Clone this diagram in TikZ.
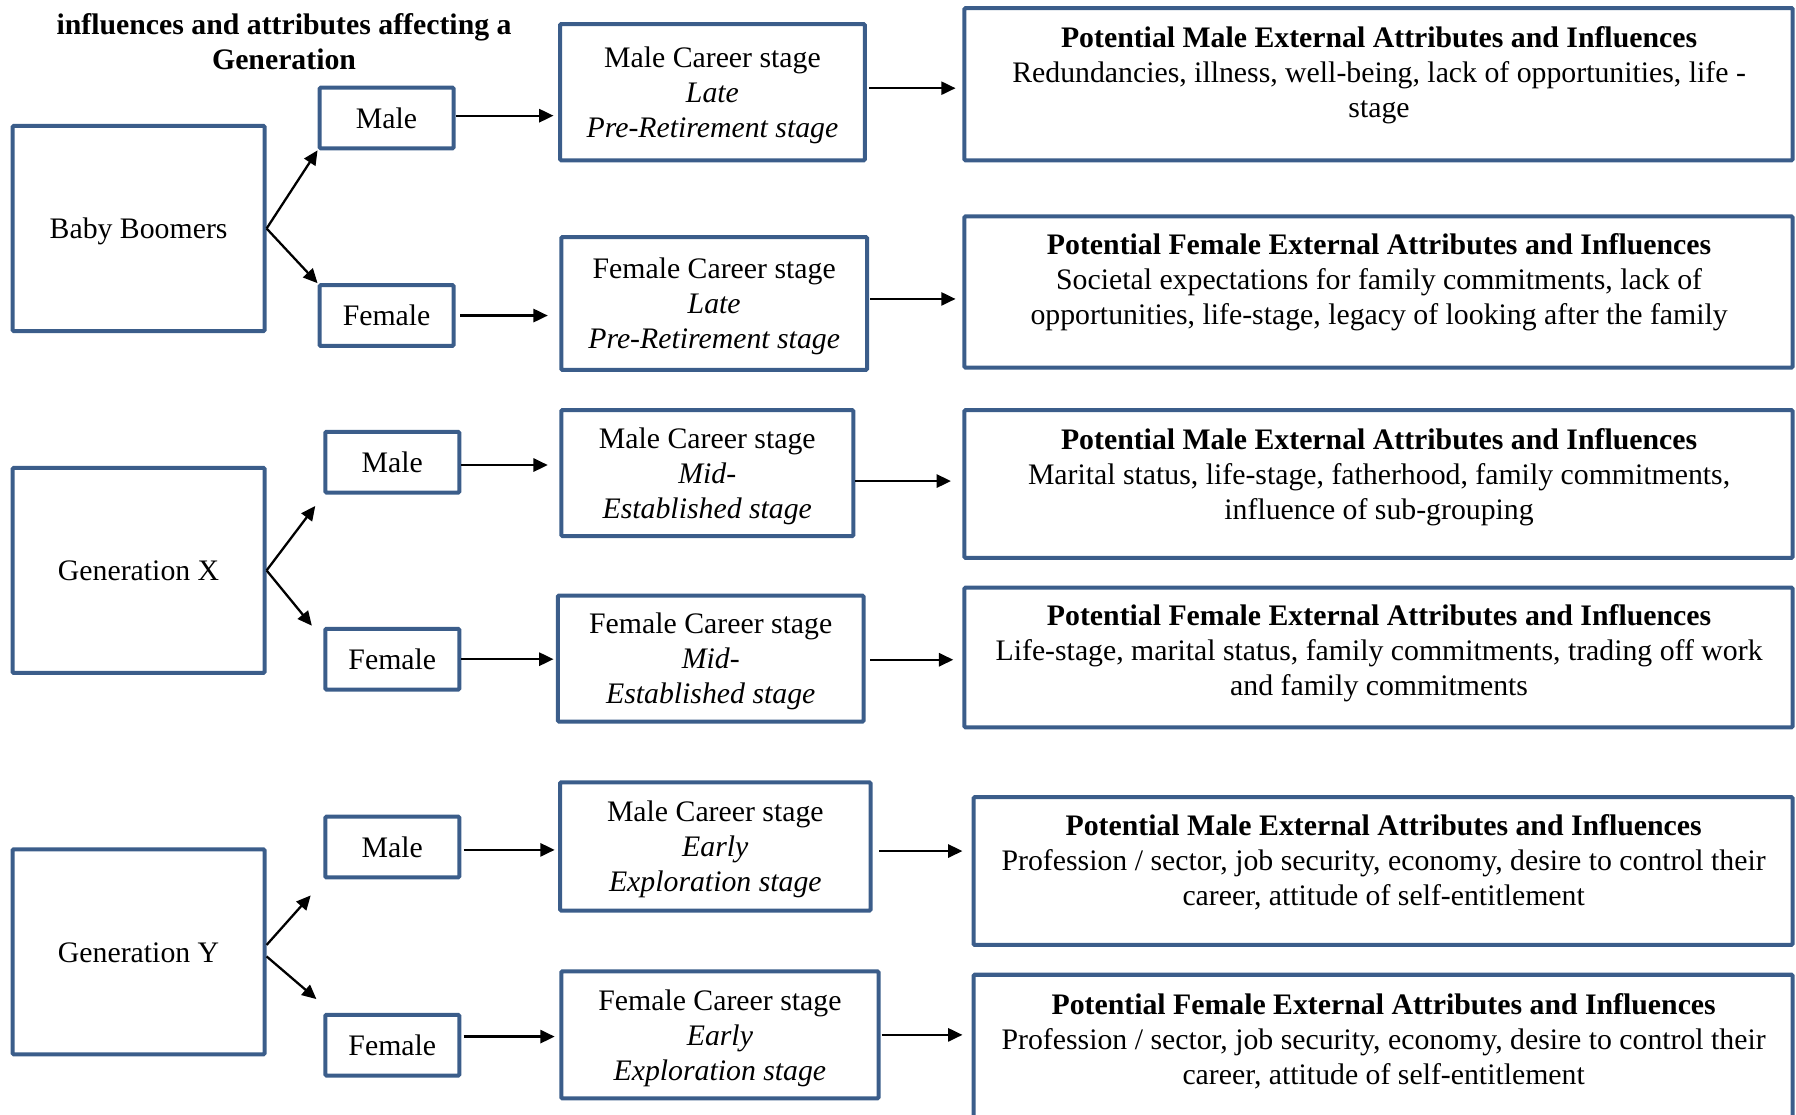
\documentclass[tikz,border=0pt]{standalone}
\usepackage{fontspec}
\setmainfont{Liberation Serif}
\usetikzlibrary{arrows.meta,calc}
\definecolor{boxblue}{RGB}{59,93,138}
% invisible strut giving first/last text lines a fixed height and depth
\newcommand\ls{\rule[-6pt]{0pt}{30pt}}
\begin{document}
\begin{tikzpicture}[x=1pt,y=-1pt,
  every node/.style={font=\fontsize{26}{30.5}\selectfont, align=center, inner sep=0pt},
  box/.style={draw=boxblue, line width=3.5pt, rectangle, rounded corners=1pt},
  gen/.style={box, minimum width=220pt, minimum height=179pt},
  sexbox/.style={box, minimum width=117pt, minimum height=53pt},
  arr/.style={line width=2pt, -{Triangle[length=12.5pt,width=11.5pt]}},
  head/.style={font=\fontsize{26}{30.5}\selectfont\bfseries}
]
\useasboundingbox (0,0) rectangle (1568,973);
\clip (0,0) rectangle (1568,973);

% heading
\node[head] (title) at (248,36) {influences and attributes affecting a\\Generation};

% generations
\node[gen] (bb) at (121,199.5) {\ls Baby Boomers};
\node[gen] (gx) at (121,498) {\ls Generation X};
\node[gen] (gy) at (121,831) {\ls Generation Y};

% male / female
\node[sexbox] (bbm) at (337.5,103) {\ls Male};
\node[sexbox] (bbf) at (337.5,275.5) {\ls Female};
\node[sexbox] (gxm) at (342.5,403.5) {\ls Male};
\node[sexbox] (gxf) at (342.5,575.5) {\ls Female};
\node[sexbox] (gym) at (342.5,739.5) {\ls Male};
\node[sexbox] (gyf) at (342.5,912.5) {\ls Female};

% career stages
\node[box, minimum width=266pt, minimum height=119pt] (bbmc) at (622,80.5)
  {\ls Male Career stage\\\textit{Late}\\\textit{Pre-Retirement stage}\ls};
\node[box, minimum width=267pt, minimum height=116pt] (bbfc) at (623.5,265)
  {\ls Female Career stage\\\textit{Late}\\\textit{Pre-Retirement stage}\ls};
\node[box, minimum width=255pt, minimum height=110pt] (gxmc) at (617.5,413)
  {\ls Male Career stage\\\textit{Mid-}\\\textit{Established stage}\ls};
\node[box, minimum width=267pt, minimum height=110pt] (gxfc) at (620.5,575)
  {\ls Female Career stage\\\textit{Mid-}\\\textit{Established stage}\ls};
\node[box, minimum width=271pt, minimum height=112pt] (gymc) at (624.5,739)
  {\ls Male Career stage\\\textit{Early}\\\textit{Exploration stage}\ls};
\node[box, minimum width=277pt, minimum height=111pt] (gyfc) at (628.5,903.5)
  {\ls Female Career stage\\\textit{Early}\\\textit{Exploration stage}\ls};

% external attributes and influences
\node[box, minimum width=723pt, minimum height=133pt] (r1) at (1203.5,73.5) {};
\node[box, minimum width=723pt, minimum height=132pt] (r2) at (1203.5,255) {};
\node[box, minimum width=723pt, minimum height=129pt] (r3) at (1203.5,422.5) {};
\node[box, minimum width=723pt, minimum height=122pt] (r4) at (1203.5,574) {};
\node[box, minimum width=715pt, minimum height=129pt] (r5) at (1207.5,760.5) {};
\node[box, minimum width=715pt, minimum height=140pt] (r6) at (1207.5,921) {};

\node (r1t) at (1204,63) {\ls\textbf{Potential Male External Attributes and Influences}\\
  Redundancies, illness, well-being, lack of opportunities, life -\\stage\ls};
\node (r2t) at (1204,244) {\ls\textbf{Potential Female External Attributes and Influences}\\
  Societal expectations for family commitments, lack of\\
  opportunities, life-stage, legacy of looking after the family\ls};
\node (r3t) at (1204,414) {\ls\textbf{Potential Male External Attributes and Influences}\\
  Marital status, life-stage, fatherhood, family commitments,\\
  influence of sub-grouping\ls};
\node (r4t) at (1204,568) {\ls\textbf{Potential Female External Attributes and Influences}\\
  Life-stage, marital status, family commitments, trading off work\\
  and family commitments\ls};
\node (r5t) at (1208,751) {\ls\textbf{Potential Male External Attributes and Influences}\\
  Profession / sector, job security, economy, desire to control their\\
  career, attitude of self-entitlement\ls};
\node (r6t) at (1208,907) {\ls\textbf{Potential Female External Attributes and Influences}\\
  Profession / sector, job security, economy, desire to control their\\
  career, attitude of self-entitlement\ls};

% branching arrows
\draw[arr] (bb.east) -- (bbm.south west);
\draw[arr] (bb.east) -- (bbf.north west);
\draw[arr] (gx.east) -- ($(gxm.south west)+(-7,10)$);
\draw[arr] (gx.east) -- ($(gxf.north west)+(-10,-1)$);
\draw[arr] ($(gy.east)+(0,-6)$) -- ($(gym.south west)+(-11,14)$);
\draw[arr] ($(gy.east)+(0,4)$) -- ($(gyf.north west)+(-6,-12)$);

% horizontal arrows
\draw[arr, shorten >=4pt] ($(bbm.east)+(0,-2)$) -- ($(bbm.east -| bbmc.west)+(0,-2)$);
\draw[arr, shorten <=4pt, shorten >=10pt] (bbf.east) -- (bbf.east -| bbfc.west);
\draw[arr, shorten <=2pt, shorten >=6pt] ($(bbmc.east)+(0,-3.5)$) -- ($(bbmc.east -| r1.west)+(0,-3.5)$);
\draw[arr, shorten <=1pt, shorten >=6pt] ($(bbfc.east)+(0,-4)$) -- ($(bbfc.east -| r2.west)+(0,-4)$);
\draw[arr, shorten >=10pt] ($(gxm.east)+(0,2.5)$) -- ($(gxm.east -| gxmc.west)+(0,2.5)$);
\draw[arr, shorten >=2pt] (gxf.east) -- (gxf.east -| gxfc.west);
\draw[arr, shorten >=10pt] ($(gxmc.east)+(0,7)$) -- ($(gxmc.east -| r3.west)+(0,7)$);
\draw[arr, shorten <=4pt, shorten >=8pt] ($(gxfc.east)+(0,1)$) -- ($(gxfc.east -| r4.west)+(0,1)$);
\draw[arr, shorten <=2pt, shorten >=3pt] ($(gym.east)+(0,2.5)$) -- ($(gym.east -| gymc.west)+(0,2.5)$);
\draw[arr, shorten <=2pt, shorten >=4pt] ($(gyf.east)+(0,-7.5)$) -- ($(gyf.east -| gyfc.west)+(0,-7.5)$);
\draw[arr, shorten <=6pt, shorten >=8pt] ($(gymc.east)+(0,4)$) -- ($(gymc.east -| r5.west)+(0,4)$);
\draw[arr, shorten <=1pt, shorten >=8pt] (gyfc.east) -- (gyfc.east -| r6.west);
\end{tikzpicture}
\end{document}
